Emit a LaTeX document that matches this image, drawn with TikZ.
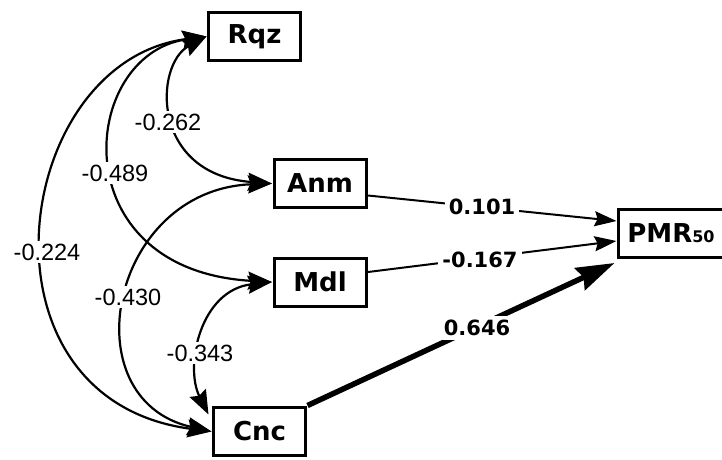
\documentclass[tikz,border=0pt]{standalone}
\usepackage{fontspec}
\setmainfont{Liberation Sans}
\newfontfamily\boxfont{DejaVu Sans}
\usetikzlibrary{arrows.meta}

\begin{document}
\begin{tikzpicture}[x=1pt,y=-1pt,
  var/.style={draw, line width=3pt, minimum width=92pt, minimum height=48pt,
    inner sep=0pt, outer sep=2pt, font=\boxfont\bfseries\fontsize{26}{30}\selectfont},
  corr/.style={line width=2.2pt,
    {Stealth[length=24pt,width=18pt,inset=3pt]}-{Stealth[length=24pt,width=18pt,inset=3pt]}},
  effect/.style={line width=2pt, -{Stealth[length=22pt,width=15pt,inset=3pt]}},
  strong/.style={line width=5.5pt, -{Stealth[length=38pt,width=24pt,inset=4pt]}},
  coef/.style={fill=white, inner sep=3pt, font=\fontsize{23.5}{26}\selectfont},
  rcoef/.style={fill=white, inner sep=4pt, font=\boxfont\bfseries\fontsize{21}{24}\selectfont}
]
\fill[white] (0,0) rectangle (722,459);
\useasboundingbox (0,0) rectangle (722,459);

% variables
\node[var] (rqz) at (254.5,36.5) {Rqz};
\node[var] (anm) at (320,183.5) {Anm};
\node[var] (mdl) at (320,282) {Mdl};
\node[var] (cnc) at (259.5,431.5) {Cnc};
\node[var, minimum width=105pt] (pmr) at (671,233) {PMR{\fontsize{16}{16}\selectfont 50}};

% correlations between predictors
\draw[corr] (rqz.west) .. controls +(-52,28) and +(-122,-9) .. (anm.west);
\draw[corr] (rqz.west) .. controls +(-127,18) and +(-212,-12) .. (mdl.west);
\draw[corr] (rqz.west) .. controls +(-195,25) and +(-245,-32) .. (cnc.west);
\draw[corr] (anm.west) .. controls +(-162,6) and +(-142,-32) .. (cnc.west);
\draw[corr] (mdl.west) .. controls +(-72,8) and +(-24,-48) .. ([xshift=-3pt,yshift=-9pt]cnc.north west);

% direct effects on PMR50
\draw[effect] ([yshift=-12pt]anm.east) -- ([yshift=12pt]pmr.west);
\draw[effect] ([yshift=10pt]mdl.east) -- ([yshift=-8pt]pmr.west);
\draw[strong] (cnc.north east) -- ([xshift=-2pt,yshift=-4pt]pmr.south west);

% coefficients
\node[coef] (c1) at (168,122) {-0.262};
\node[coef] (c2) at (115,173) {-0.489};
\node[coef] (c3) at (47,252) {-0.224};
\node[coef] (c4) at (128,297) {-0.430};
\node[coef] (c5) at (200,353) {-0.343};
\node[rcoef] (c6) at (482,207) {0.101};
\node[rcoef] (c7) at (480,260) {-0.167};
\node[rcoef] (c8) at (477,328) {0.646};
\end{tikzpicture}
\end{document}
